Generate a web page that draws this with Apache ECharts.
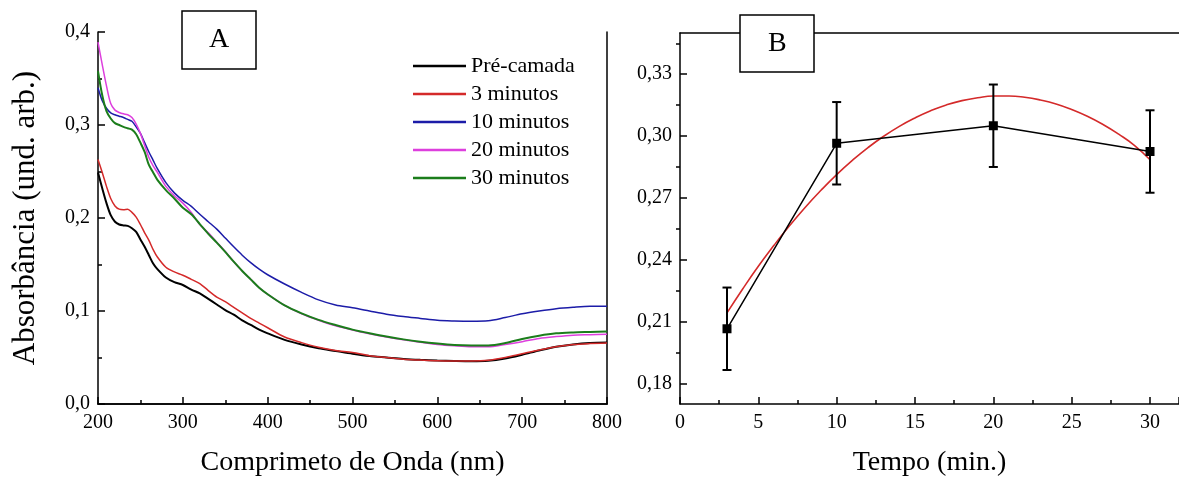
<!DOCTYPE html>
<html><head><meta charset="utf-8">
<script src="https://cdn.jsdelivr.net/npm/echarts@6/dist/echarts.min.js"></script>
<style>html,body{margin:0;padding:0;background:#fff}#c{width:1179px;height:482px}</style>
</head><body><div id="c"></div>
<script>
// ---------- Panel A data ----------
const wavelength = [200,205,210,215,220,225,230,235,240,245,250,255,260,265,270,280,290,300,310,320,330,340,350,360,370,380,390,400,420,440,460,480,500,520,540,560,580,600,620,640,660,680,700,720,740,760,780,800];
const preCamada = [0.249,0.232,0.216,0.203,0.196,0.193,0.192,0.1915,0.189,0.185,0.177,0.169,0.160,0.151,0.145,0.136,0.131,0.128,0.123,0.119,0.113,0.107,0.101,0.096,0.090,0.085,0.080,0.076,0.069,0.064,0.060,0.057,0.054,0.0515,0.050,0.0485,0.0475,0.0468,0.0463,0.046,0.0465,0.049,0.053,0.0575,0.0615,0.064,0.0655,0.066];
const min3 = [0.263,0.249,0.234,0.221,0.213,0.2095,0.209,0.2095,0.206,0.201,0.193,0.184,0.176,0.166,0.158,0.147,0.142,0.1385,0.134,0.1295,0.122,0.115,0.110,0.104,0.098,0.092,0.087,0.082,0.072,0.066,0.061,0.0575,0.0555,0.052,0.050,0.048,0.0472,0.0465,0.0463,0.0463,0.047,0.050,0.054,0.058,0.0615,0.064,0.065,0.0655];
const min10 = [0.340,0.326,0.318,0.313,0.311,0.3095,0.308,0.306,0.304,0.298,0.291,0.281,0.271,0.262,0.253,0.238,0.227,0.219,0.2125,0.204,0.196,0.188,0.1785,0.169,0.160,0.152,0.145,0.139,0.129,0.120,0.112,0.1065,0.1035,0.100,0.0965,0.094,0.092,0.090,0.0893,0.089,0.0895,0.093,0.097,0.100,0.1025,0.104,0.105,0.105];
const min20 = [0.389,0.365,0.342,0.323,0.316,0.3135,0.312,0.311,0.308,0.301,0.291,0.278,0.265,0.256,0.249,0.234,0.224,0.216,0.206,0.193,0.184,0.174,0.164,0.153,0.143,0.134,0.125,0.118,0.106,0.097,0.090,0.084,0.0795,0.0755,0.072,0.069,0.0665,0.064,0.0625,0.0615,0.0615,0.064,0.067,0.0705,0.0725,0.074,0.0745,0.075];
const min30 = [0.358,0.332,0.315,0.307,0.302,0.300,0.298,0.2965,0.295,0.290,0.281,0.271,0.257,0.249,0.241,0.230,0.221,0.211,0.204,0.1935,0.183,0.1735,0.1635,0.153,0.143,0.134,0.125,0.118,0.106,0.0975,0.0905,0.085,0.080,0.076,0.0725,0.0695,0.067,0.065,0.0635,0.063,0.063,0.0655,0.070,0.0735,0.076,0.077,0.0775,0.078];
const seriesNames = ['Pré-camada','3 minutos','10 minutos','20 minutos','30 minutos'];

// ---------- Panel B data ----------
const timeMin = [3,10,20,30];
const absMean = [0.2065,0.2965,0.305,0.2925];
const absErr = [0.02,0.02,0.02,0.02];
const fitTime = [3,4,5,6,7,8,9,10,11,12,13,14,15,16,17,18,19,20,21,22,23,24,25,26,27,28,29,30];
const fitAbs = [0.2142,0.2258,0.2368,0.2470,0.2566,0.2655,0.2737,0.2813,0.2882,0.2944,0.2999,0.3047,0.3088,0.3123,0.3151,0.3172,0.3186,0.3194,0.3194,0.3188,0.3175,0.3156,0.3129,0.3096,0.3056,0.3009,0.2955,0.2885];
const bYLabels = [0.18,0.21,0.24,0.27,0.30,0.33];
const bYMinor = [0.195,0.225,0.255,0.285,0.315,0.345];

const FONT = 'Liberation Serif';
const colorsA = ['#000000','#d42a2a','#1c1ca8','#dd3fdd','#1b7d1b'];
const widthsA = [2,1.5,1.5,1.5,2];
const valuesA = [preCamada,min3,min10,min20,min30];

const chart = echarts.init(document.getElementById('c'));
const axisLine = {show:true, lineStyle:{color:'#000', width:1.5}};
const labelStyle = {color:'#000', fontSize:20, fontFamily:FONT};
const nameStyle = {color:'#000', fontSize:28, fontFamily:FONT};
const comma = d => v => v.toFixed(d).replace('.', ',');

const seriesA = valuesA.map((vals,i) => ({
  name: seriesNames[i], type:'line', xAxisIndex:0, yAxisIndex:0,
  data: wavelength.map((w,j)=>[w, vals[j]]),
  showSymbol:false, smooth:0.3, color: colorsA[i],
  lineStyle:{width:widthsA[i], color:colorsA[i]}, z: 3
}));

const option = {
  animation:false,
  backgroundColor:'#fff',
  title:[
    {text:'A', left:182, top:11, padding:[14,27,14,27], borderWidth:1.5, borderColor:'#000', backgroundColor:'#fff',
     textStyle:{fontSize:28, fontWeight:'normal', fontFamily:FONT, color:'#000', lineHeight:30}, z:10},
    {text:'B', left:740, top:15, padding:[14,28,13,28], borderWidth:1.5, borderColor:'#000', backgroundColor:'#fff',
     textStyle:{fontSize:28, fontWeight:'normal', fontFamily:FONT, color:'#000', lineHeight:30}, z:10}
  ],
  legend:{
    data: seriesNames, orient:'vertical', left:408, top:50, itemWidth:53, itemHeight:2.5, itemGap:6,
    icon:'rect', textStyle:{color:'#000', fontSize:22, fontFamily:FONT, lineHeight:22},
    selectedMode:false
  },
  grid:[
    {left:98, top:32, width:509, height:374},
    {left:680, top:33, right:0, height:373}
  ],
  xAxis:[
    {type:'value', gridIndex:0, min:200, max:800, interval:100, axisLine,
     axisTick:{inside:true, length:7, lineStyle:{color:'#000', width:1.5}},
     minorTick:{show:true, splitNumber:2, length:4, lineStyle:{color:'#000', width:1.5}},
     splitLine:{show:false}, axisLabel:{...labelStyle, margin:9},
     name:'Comprimeto de Onda (nm)', nameLocation:'middle', nameGap:45, nameTextStyle:nameStyle},
    {type:'value', gridIndex:0, position:'top', min:200, max:800, axisLine,
     axisTick:{show:false}, axisLabel:{show:false}, splitLine:{show:false}},
    {type:'value', gridIndex:1, min:0, max:31.85, interval:5, axisLine,
     axisTick:{inside:true, length:7, lineStyle:{color:'#000', width:1.5}},
     minorTick:{show:true, splitNumber:2, length:4, lineStyle:{color:'#000', width:1.5}},
     splitLine:{show:false}, axisLabel:{...labelStyle, margin:9, showMaxLabel:false},
     name:'Tempo (min.)', nameLocation:'middle', nameGap:45, nameTextStyle:nameStyle},
    {type:'value', gridIndex:1, position:'top', min:0, max:31.85, axisLine,
     axisTick:{show:false}, axisLabel:{show:false}, splitLine:{show:false}}
  ],
  yAxis:[
    {type:'value', gridIndex:0, min:0, max:0.4, interval:0.1, axisLine,
     axisTick:{inside:true, length:7, lineStyle:{color:'#000', width:1.5}},
     minorTick:{show:true, splitNumber:2, length:4, lineStyle:{color:'#000', width:1.5}},
     splitLine:{show:false}, axisLabel:{...labelStyle, margin:8, formatter:comma(1)},
     name:'Absorbância (und. arb.)', nameLocation:'middle', nameGap:57,
     nameTextStyle:{...nameStyle, fontSize:31}},
    {type:'value', gridIndex:0, position:'right', min:0, max:0.4, axisLine,
     axisTick:{show:false}, axisLabel:{show:false}, splitLine:{show:false}},
    {type:'value', gridIndex:1, min:0.17, max:0.35, axisLine,
     axisTick:{inside:true, length:7, customValues:bYLabels, lineStyle:{color:'#000', width:1.5}},
     splitLine:{show:false}, axisLabel:{...labelStyle, margin:8, customValues:bYLabels, formatter:comma(2)}},
    {type:'value', gridIndex:1, min:0.17, max:0.35, axisLine:{show:false},
     axisTick:{inside:true, length:4, customValues:bYMinor, lineStyle:{color:'#000', width:1.5}},
     splitLine:{show:false}, axisLabel:{show:false}}
  ],
  series:[
    ...seriesA,
    {type:'line', name:'fit', xAxisIndex:2, yAxisIndex:2, data: fitTime.map((t,i)=>[t, fitAbs[i]]),
     showSymbol:false, smooth:true, lineStyle:{color:'#d42a2a', width:1.6}, color:'#d42a2a', z:3},
    {type:'line', name:'media', xAxisIndex:2, yAxisIndex:2, data: timeMin.map((t,i)=>[t, absMean[i]]),
     symbol:'rect', symbolSize:9, lineStyle:{color:'#000', width:1.5}, itemStyle:{color:'#000'}, z:4},
    {type:'custom', name:'erro', xAxisIndex:2, yAxisIndex:2,
     data: timeMin.map((t,i)=>[t, absMean[i]-absErr[i], absMean[i]+absErr[i]]),
     renderItem:(params, api) => {
       const lo = api.coord([api.value(0), api.value(1)]);
       const hi = api.coord([api.value(0), api.value(2)]);
       const c = 4.5, st = {stroke:'#000', lineWidth:2};
       return {type:'group', children:[
         {type:'line', shape:{x1:lo[0], y1:lo[1], x2:hi[0], y2:hi[1]}, style:st},
         {type:'line', shape:{x1:lo[0]-c, y1:lo[1], x2:lo[0]+c, y2:lo[1]}, style:st},
         {type:'line', shape:{x1:hi[0]-c, y1:hi[1], x2:hi[0]+c, y2:hi[1]}, style:st}
       ]};
     }, z:4}
  ]
};
chart.setOption(option);
</script>
</body></html>
